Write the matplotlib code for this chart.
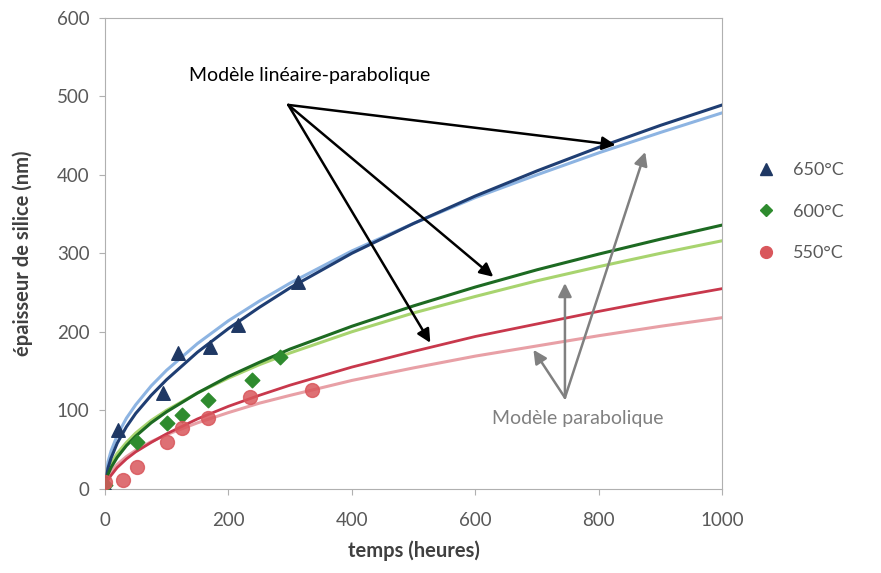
import matplotlib.pyplot as plt
from matplotlib.lines import Line2D

plt.rcParams["font.family"] = ["Lato", "DejaVu Sans"]

# Measured oxide thickness (nm) vs time (h)
T_650 = [0, 21, 94, 118, 170, 216, 313]
E_650 = [5, 75, 122, 173, 180, 209, 264]
T_600 = [0, 52, 100, 125, 167, 238, 284]
E_600 = [5, 60, 84, 94, 113, 139, 168]
T_550 = [0, 29, 52, 100, 125, 167, 235, 335]
E_550 = [9, 11, 28, 59, 78, 90, 117, 126]

# Model curves
T_MOD = [0, 5, 10, 20, 35, 50, 75, 100, 150, 200, 250, 300, 400, 500, 600, 700, 800, 900, 1000]
LP_650 = [0, 26, 39, 58, 79, 96, 119, 139, 174, 204, 231, 256, 300, 338, 373, 405, 435, 463, 489]
PA_650 = [0, 34, 48, 68, 90, 107, 131, 151, 185, 214, 239, 262, 303, 338, 371, 400, 428, 454, 479]
LP_600 = [0, 18, 27, 40, 55, 67, 84, 98, 122, 143, 161, 178, 207, 233, 257, 279, 299, 318, 336]
PA_600 = [0, 22, 32, 45, 59, 71, 87, 100, 122, 141, 158, 173, 200, 224, 245, 265, 283, 300, 316]
LP_550 = [0, 11, 17, 27, 38, 47, 59, 70, 89, 105, 119, 132, 155, 175, 194, 210, 226, 241, 255]
PA_550 = [0, 15, 22, 31, 41, 49, 60, 69, 84, 97, 109, 119, 138, 154, 169, 182, 195, 207, 218]

SERIES_LABELS = ["650°C", "600°C", "550°C"]

fig = plt.figure(figsize=(8.81, 5.73), dpi=100)
ax = fig.add_axes([0.119, 0.147, 0.701, 0.822])

# light (parabolic) curves under dark (linear-parabolic) ones
ax.plot(T_MOD, PA_650, color="#8DB4E2", lw=2.2, zorder=2)
ax.plot(T_MOD, PA_600, color="#A8D46F", lw=2.2, zorder=2)
ax.plot(T_MOD, PA_550, color="#E8A0A6", lw=2.2, zorder=2)
ax.plot(T_MOD, LP_650, color="#1F3E73", lw=2.2, zorder=3)
ax.plot(T_MOD, LP_600, color="#1D6A22", lw=2.2, zorder=3)
ax.plot(T_MOD, LP_550, color="#C8384C", lw=2.0, zorder=3)

ax.scatter(T_650, E_650, marker="^", s=95, color="#1F3864", zorder=4)
ax.scatter(T_600, E_600, marker="D", s=55, color="#2E8B2E", zorder=4)
ax.scatter(T_550, E_550, marker="o", s=100, color="#D9575C", alpha=0.85, zorder=5)

ax.set_xlim(0, 1000)
ax.set_ylim(0, 600)
ax.set_xticks(range(0, 1001, 200))
ax.set_yticks(range(0, 601, 100))
for sp in ax.spines.values():
    sp.set_color("#B0B0B0")
ax.tick_params(colors="#B0B0B0", labelcolor="#595959", labelsize=13.5, length=4)
ax.tick_params(axis="x", pad=13)
ax.tick_params(axis="y", pad=7)
ax.set_xlabel("temps (heures)", fontsize=14.5, fontweight="bold", color="#404040", labelpad=8)
ax.set_ylabel("épaisseur de silice (nm)", fontsize=14.5, fontweight="bold", color="#404040", labelpad=17)

# annotations
black = dict(arrowstyle="-|>", color="black", lw=1.8, mutation_scale=20, shrinkA=0, shrinkB=0)
for tip in [(827, 438), (629, 270), (527, 186)]:
    ax.annotate("", xy=tip, xytext=(297, 489), arrowprops=black, zorder=6)
ax.text(332, 526, "Modèle linéaire-parabolique", ha="center", va="center", fontsize=14, color="black")

gray = dict(arrowstyle="-|>", color="#808080", lw=1.8, mutation_scale=20, shrinkA=0, shrinkB=0)
for tip in [(694, 177), (745, 262), (875, 429)]:
    ax.annotate("", xy=tip, xytext=(745, 116), arrowprops=gray, zorder=6)
ax.text(765, 90, "Modèle parabolique", ha="center", va="center", fontsize=14, color="#808080")

handles = [
    Line2D([], [], ls="none", marker="^", ms=8.5, color="#1F3864"),
    Line2D([], [], ls="none", marker="D", ms=6, color="#2E8B2E"),
    Line2D([], [], ls="none", marker="o", ms=8.5, color="#D9575C"),
]
leg = fig.legend(handles, SERIES_LABELS, loc="upper left", bbox_to_anchor=(0.83, 0.745),
                 frameon=False, fontsize=13, labelspacing=1.4, handletextpad=0.5)
for t in leg.get_texts():
    t.set_color("#595959")

fig.savefig("out.png", dpi=100)
